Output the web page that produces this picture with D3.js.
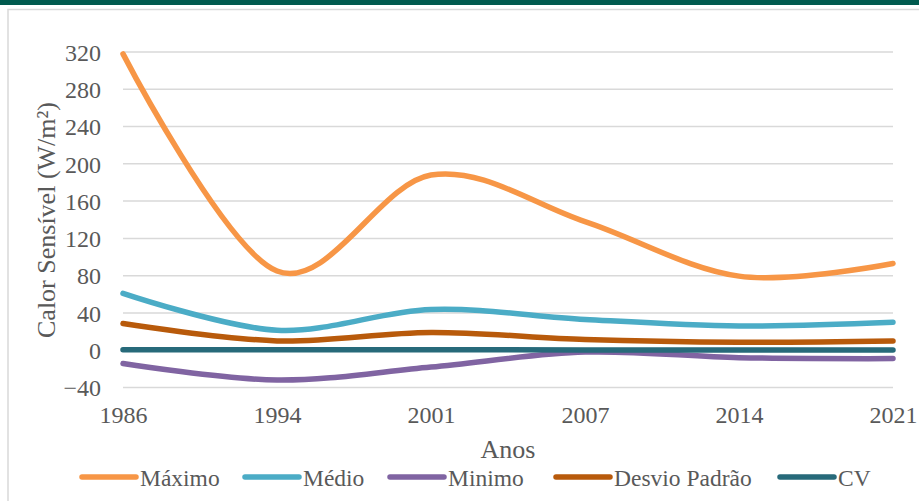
<!DOCTYPE html>
<html><head><meta charset="utf-8">
<script src="https://cdn.jsdelivr.net/npm/d3@7"></script>
<style>
body{margin:0;background:#fff;}
text{font-family:"Liberation Serif","Times New Roman",serif;fill:#595959;}
</style></head>
<body><svg id="c" width="919" height="501"></svg>
<script>
const years = ["1986","1994","2001","2007","2014","2021"];
const maximo = [318, 85, 188, 138, 79.5, 93];
const medio = [61, 21.5, 43.7, 33, 26, 30];
const minimo = [-14.3, -32, -18, -2, -8, -9];
const desvio = [28.6, 10, 19, 11.5, 8.6, 10];
const cv = [0.47, 0.48, 0.43, 0.35, 0.33, 0.33];
const yTicks = [-40, 0, 40, 80, 120, 160, 200, 240, 280, 320];
const seriesNames = ["Máximo", "Médio", "Minimo", "Desvio Padrão", "CV"];
const seriesColors = ["#F79646", "#4BACC6", "#8064A2", "#B85A0B", "#276A7A"];
const seriesValues = [maximo, medio, minimo, desvio, cv];

const svg = d3.select("#c");
svg.append("rect").attr("x",0).attr("y",0).attr("width",919).attr("height",5).attr("fill","#005A4E");
svg.append("rect").attr("x",8).attr("y",9.5).attr("width",950).attr("height",600)
  .attr("fill","none").attr("stroke","#D9D9D9").attr("stroke-width",1.5);

const x = d3.scalePoint().domain(years).range([123, 893]);
const y = d3.scaleLinear().domain([-40, 320]).range([387.5, 52]);

svg.append("g").selectAll("line").data(yTicks).join("line")
  .attr("x1",123).attr("x2",893).attr("y1",d=>y(d)).attr("y2",d=>y(d))
  .attr("stroke","#D9D9D9").attr("stroke-width",1.5);

const ya = svg.append("g").attr("transform","translate(101,0)")
  .call(d3.axisLeft(y).tickValues(yTicks).tickSize(0).tickPadding(0));
ya.attr("font-family",null);
ya.select(".domain").remove();
ya.selectAll("text").attr("font-size",24).attr("fill","#595959").attr("dy","0.34em")
  .style("font-family","'Liberation Serif', serif");

const xa = svg.append("g").attr("transform","translate(0,405)")
  .call(d3.axisBottom(x).tickSize(0).tickPadding(0));
xa.attr("font-family",null);
xa.select(".domain").remove();
xa.selectAll("text").attr("font-size",24).attr("fill","#595959").attr("dy","0.75em")
  .style("font-family","'Liberation Serif', serif");

svg.append("text").attr("x",508).attr("y",458).attr("text-anchor","middle")
  .attr("font-size",26).text("Anos");
svg.append("text").attr("transform","translate(55,220) rotate(-90)").attr("text-anchor","middle")
  .attr("font-size",26).text("Calor Sensível (W/m²)");

const line = d3.line().x((d,i)=>x(years[i])).y(d=>y(d)).curve(d3.curveCatmullRom.alpha(0));
seriesValues.forEach((vals,k)=>{
  svg.append("path").datum(vals).attr("d",line).attr("fill","none")
    .attr("stroke",seriesColors[k]).attr("stroke-width",5.5).attr("stroke-linecap","round");
});

const legX = [82, 245, 390, 556, 780];
const lg = svg.append("g");
seriesNames.forEach((n,k)=>{
  lg.append("line").attr("x1",legX[k]).attr("x2",legX[k]+54).attr("y1",477).attr("y2",477)
    .attr("stroke",seriesColors[k]).attr("stroke-width",5.5).attr("stroke-linecap","round");
  lg.append("text").attr("x",legX[k]+58).attr("y",486).attr("font-size",23.5).text(n);
});
</script></body></html>
